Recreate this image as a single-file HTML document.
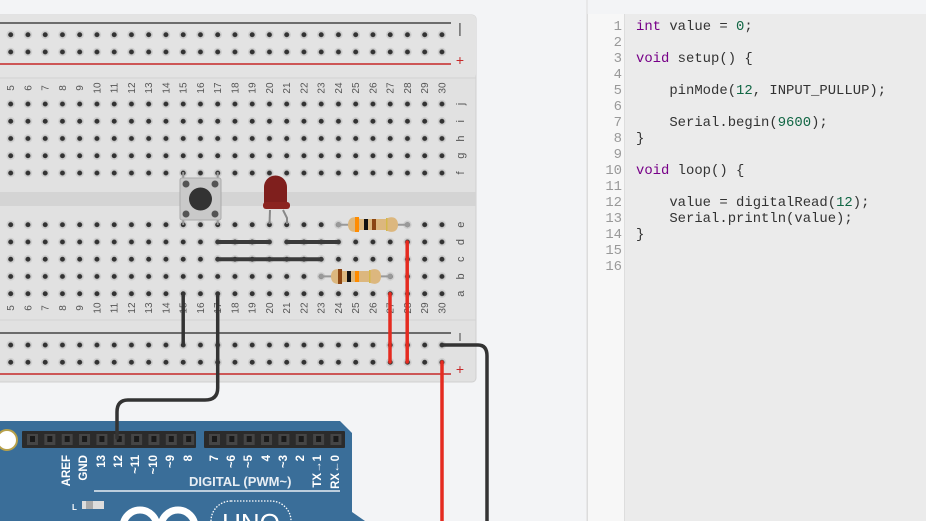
<!DOCTYPE html>
<html><head><meta charset="utf-8"><style>
html,body{margin:0;padding:0;background:#f3f4f6;width:926px;height:521px;overflow:hidden;position:relative}
svg{position:absolute;left:0;top:0}
#code{position:absolute;left:587px;top:14px;width:339px;height:507px;background:#ebebeb;border-left:1px solid #dcdcdc;font-family:"Liberation Mono",monospace;font-size:13.9px;color:#333}
#gut{position:absolute;left:0;top:0;width:36px;height:100%;background:#f7f7f7;border-right:1px solid #ddd}
.ln{position:absolute;height:16px;line-height:16px;white-space:pre}
.n{width:34px;text-align:right;color:#999;left:0}
.t{left:48px}
.k{color:#770088}.d{color:#116644}
</style></head><body>
<svg width="926" height="521" viewBox="0 0 926 521" xmlns="http://www.w3.org/2000/svg" font-family="Liberation Sans, sans-serif">
<defs>
<pattern id="dots" patternUnits="userSpaceOnUse" width="17.25" height="17.25">
<circle cx="8.625" cy="8.625" r="4.2" fill="#cdcdcd"/>
<circle cx="8.625" cy="8.625" r="2.5" fill="#333"/>
</pattern>
</defs>
<line x1="587" y1="0" x2="587" y2="521" stroke="#dcdcdc"/>
<!-- breadboard -->
<rect x="-10" y="15" width="486" height="367" rx="4" fill="#e1e1e1" stroke="#d0d0d0"/>
<rect x="-10" y="15" width="486" height="63" rx="4" fill="#e3e3e3"/>
<line x1="-10" y1="78" x2="476" y2="78" stroke="#d2d2d2"/>
<line x1="-10" y1="320" x2="476" y2="320" stroke="#d2d2d2"/>
<rect x="-10" y="192" width="486" height="14" fill="#d4d4d4"/>
<line x1="0" y1="23" x2="451" y2="23" stroke="#444" stroke-width="1.5"/>
<line x1="0" y1="64" x2="451" y2="64" stroke="#c62828" stroke-width="1.5"/>
<line x1="0" y1="333" x2="451" y2="333" stroke="#444" stroke-width="1.5"/>
<line x1="0" y1="374" x2="451" y2="374" stroke="#c62828" stroke-width="1.5"/>
<text x="460" y="33" font-size="14" fill="#444" text-anchor="middle">|</text>
<text x="460" y="65" font-size="14" fill="#c62828" text-anchor="middle">+</text>
<line x1="460" y1="333" x2="460" y2="341" stroke="#444"/>
<text x="460" y="374" font-size="14" fill="#c62828" text-anchor="middle">+</text>
<g transform="translate(2.08,26.1)"><rect width="448.5" height="34.5" fill="url(#dots)"/></g>
<g transform="translate(2.08,95.4)"><rect width="448.5" height="86.25" fill="url(#dots)"/></g>
<g transform="translate(2.08,216.1)"><rect width="448.5" height="86.25" fill="url(#dots)"/></g>
<g transform="translate(2.08,336.4)"><rect width="448.5" height="34.5" fill="url(#dots)"/></g>
<g font-size="10" fill="#555" text-anchor="middle" id="nums">
<!-- numbers inserted -->
</g>
<g font-size="11" fill="#555" text-anchor="middle">
<text transform="translate(460,104) rotate(-90)" dy="4">j</text>
<text transform="translate(460,121.3) rotate(-90)" dy="4">i</text>
<text transform="translate(460,138.5) rotate(-90)" dy="4">h</text>
<text transform="translate(460,155.7) rotate(-90)" dy="4">g</text>
<text transform="translate(460,173) rotate(-90)" dy="4">f</text>
<text transform="translate(460,224.7) rotate(-90)" dy="4">e</text>
<text transform="translate(460,242) rotate(-90)" dy="4">d</text>
<text transform="translate(460,259.2) rotate(-90)" dy="4">c</text>
<text transform="translate(460,276.4) rotate(-90)" dy="4">b</text>
<text transform="translate(460,293.7) rotate(-90)" dy="4">a</text>
</g>
<!-- jumpers -->
<g stroke="#3a3a3a" stroke-width="4" stroke-linecap="round">
<line x1="217.7" y1="242" x2="269.5" y2="242"/>
<line x1="286.7" y1="242" x2="338.5" y2="242"/>
<line x1="217.7" y1="259.2" x2="321.3" y2="259.2"/>
</g>
<!-- button -->
<line x1="183.2" y1="172" x2="183.2" y2="225" stroke="#999" stroke-width="2"/>
<line x1="217.7" y1="172" x2="217.7" y2="225" stroke="#999" stroke-width="2"/>
<rect x="180" y="178" width="41" height="42" rx="2" fill="#c9c9c9" stroke="#aaa"/>
<circle cx="186" cy="184" r="3.5" fill="#555"/><circle cx="215" cy="184" r="3.5" fill="#555"/>
<circle cx="186" cy="214" r="3.5" fill="#555"/><circle cx="215" cy="214" r="3.5" fill="#555"/>
<circle cx="200.5" cy="199" r="11.5" fill="#333"/>
<!-- LED -->
<line x1="270" y1="210" x2="269.5" y2="224" stroke="#888" stroke-width="2"/>
<polyline points="283,210 287,218 287,224" fill="none" stroke="#888" stroke-width="2"/>
<path d="M264,207 L264,187 A11.5,11.5 0 0 1 287,187 L287,207 Z" fill="#7f1f1d"/>
<rect x="263" y="202" width="27" height="7" rx="3" fill="#8b2420"/>
<!-- resistors -->
<g id="res1">
<line x1="338.5" y1="224.7" x2="407.5" y2="224.7" stroke="#999" stroke-width="2"/>
<circle cx="338.5" cy="224.7" r="2.5" fill="#999"/><circle cx="407.5" cy="224.7" r="2.5" fill="#999"/>
<path d="M348,224.7 C348,216 356,216 360,219 L386,219 C390,216 398,216 398,224.7 C398,233 390,233 386,230 L360,230 C356,233 348,233 348,224.7Z" fill="#dcb77e"/>
<rect x="355" y="217" width="4" height="15" fill="#ff8c00"/>
<rect x="364" y="219" width="4" height="11" fill="#111"/>
<rect x="372" y="219" width="4" height="11" fill="#8b4513"/>
<rect x="386" y="218" width="1.5" height="13" fill="#d4b84a"/>
</g>
<g>
<line x1="321.3" y1="276.4" x2="390" y2="276.4" stroke="#999" stroke-width="2"/>
<circle cx="321.3" cy="276.4" r="2.5" fill="#999"/><circle cx="390" cy="276.4" r="2.5" fill="#999"/>
<path d="M331,276.4 C331,268 339,268 343,271 L369,271 C373,268 381,268 381,276.4 C381,285 373,285 369,282 L343,282 C339,285 331,285 331,276.4Z" fill="#dcb77e"/>
<rect x="338" y="269" width="4" height="15" fill="#8b4513"/>
<rect x="347" y="271" width="4" height="11" fill="#111"/>
<rect x="355" y="271" width="4" height="11" fill="#ff8c00"/>
<rect x="369" y="270" width="1.5" height="13" fill="#d4b84a"/>
</g>
<!-- arduino -->
<path d="M-5,421 L340,421 L352,433 L352,512 L365,521 L-5,521 Z" fill="#3a6e99"/>
<circle cx="7" cy="440" r="10" fill="#fff" stroke="#b8a14a" stroke-width="2"/>
<rect x="22" y="431" width="174" height="17" rx="1" fill="#2b2b2b"/>
<rect x="204" y="431" width="141" height="17" rx="1" fill="#2b2b2b"/>
<g id="pins" fill="#3c3c3c"></g>
<g font-size="11.5" fill="#fff" font-weight="bold" id="alabels"></g>
<text x="189" y="486" font-size="13" font-weight="bold" fill="#e8eef4">DIGITAL (PWM~)</text>
<line x1="94" y1="491" x2="340" y2="491" stroke="#e8eef4" stroke-width="1.5"/>
<text x="72" y="510" font-size="8" font-weight="bold" fill="#fff">L</text>
<rect x="82" y="501" width="22" height="8" fill="#ddd"/><rect x="86" y="501" width="7" height="8" fill="#aaa"/>
<circle cx="140" cy="527" r="17" fill="none" stroke="#fff" stroke-width="7"/>
<circle cx="178" cy="527" r="17" fill="none" stroke="#fff" stroke-width="7"/>
<rect x="211" y="501" width="80" height="40" rx="20" fill="none" stroke="#fff" stroke-width="1.3" stroke-dasharray="1.5 1.5"/>
<text x="251" y="532" font-size="26" fill="#fff" text-anchor="middle">UNO</text>
<!-- wires -->
<g fill="none" stroke-linecap="round">
<path d="M183.2,293.7 L183.2,345" stroke="#333" stroke-width="3.5"/>
<path d="M217.7,293.7 L217.7,388 Q217.7,400 205,400 L128,400 Q117,400 117,412 L117,438" stroke="#333" stroke-width="3.5"/>
<path d="M442,345 L478,345 Q487,345 487,356 L487,530" stroke="#333" stroke-width="3.5"/>
<path d="M390,293.7 L390,362" stroke="#e52b20" stroke-width="3.5"/>
<path d="M407.2,242 L407.2,362" stroke="#e52b20" stroke-width="3.5"/>
<path d="M442,362 L442,530" stroke="#e52b20" stroke-width="3.5"/>
</g>
</svg>
<div id="code"><div id="gut"></div></div>
<script>
var ns="http://www.w3.org/2000/svg";
function el(t,a,txt){var e=document.createElementNS(ns,t);for(var k in a)e.setAttribute(k,a[k]);if(txt)e.textContent=txt;return e;}
var g=document.getElementById("nums");
for(var n=5;n<=30;n++){var x=10.7+(n-5)*17.25;
[88,308].forEach(function(y){g.appendChild(el("text",{transform:"translate("+x+","+y+") rotate(-90)",dy:"3.5"},""+n));});}
var p=document.getElementById("pins");
for(var i=0;i<10;i++){var x=24+i*17.35;p.appendChild(el("rect",{x:x+3,y:434,width:11,height:11,fill:"#454545"}));p.appendChild(el("rect",{x:x+6,y:436,width:5,height:6,fill:"#1a1a1a"}));}
for(var i=0;i<8;i++){var x=206+i*17.35;p.appendChild(el("rect",{x:x+3,y:434,width:11,height:11,fill:"#454545"}));p.appendChild(el("rect",{x:x+6,y:436,width:5,height:6,fill:"#1a1a1a"}));}
var L=[["AREF",66],["GND",83],["13",101],["12",118],["~11",135],["~10",153],["~9",170],["8",188],["7",214],["~6",231],["~5",248],["4",266],["~3",283],["2",300],["TX\u21921",317],["RX\u21900",335]];
var a=document.getElementById("alabels");
L.forEach(function(l){a.appendChild(el("text",{transform:"translate("+(l[1]+4)+",455) rotate(-90)","text-anchor":"end"},l[0]));});
var code=[["<span class=k>int</span> value = <span class=d>0</span>;"],[""],["<span class=k>void</span> setup() {"],[""],["    pinMode(<span class=d>12</span>, INPUT_PULLUP);"],[""],["    Serial.begin(<span class=d>9600</span>);"],["}"],[""],["<span class=k>void</span> loop() {"],[""],["    value = digitalRead(<span class=d>12</span>);"],["    Serial.println(value);"],["}"],[""],[""]];
var c=document.getElementById("code"),h="";
code.forEach(function(l,i){var y=5+i*16;h+='<div class="ln n" style="top:'+y+'px">'+(i+1)+'</div><div class="ln t" style="top:'+y+'px">'+l[0]+'</div>';});
c.innerHTML+=h;
</script>
</body></html>
